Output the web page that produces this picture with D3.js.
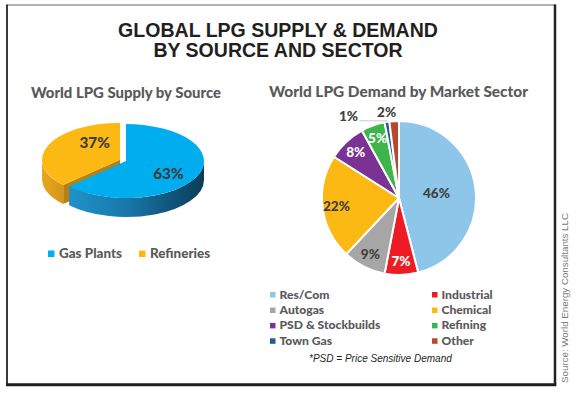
<!DOCTYPE html>
<html><head><meta charset="utf-8">
<script src="https://cdn.jsdelivr.net/npm/d3@7"></script>
<style>html,body{margin:0;padding:0;background:#fff;overflow:hidden}</style>
</head><body><svg id="c" width="580" height="394"></svg>
<script>
// ---- data ----
const titleLines = ["GLOBAL LPG SUPPLY & DEMAND", "BY SOURCE AND SECTOR"];
const supplyTitle = "World LPG Supply by Source";
const supplyCategories = ["Gas Plants", "Refineries"];
const supplyValues = [63, 37];
const demandTitle = "World LPG Demand by Market Sector";
const demandCategories = ["Res/Com", "Industrial", "Autogas", "Chemical", "PSD & Stockbuilds", "Refining", "Town Gas", "Other"];
const demandValues = [46, 7, 9, 22, 8, 5, 1, 2];
const footnote = "*PSD = Price Sensitive Demand";
const sourceNote = "Source: World Energy Consultants LLC";

// ---- styles ----
const supplyTop = ["#00aeef", "#fdb913"];
const demandColors = ["#8ec6ea", "#ed1c24", "#a6a6a6", "#fdb913", "#7a3294", "#3cb54a", "#1f5c99", "#b9472b"];
const demandLabelColors = ["#404040", "#ffffff", "#404040", "#404040", "#ffffff", "#ffffff", "#404040", "#404040"];
const calibri = "Lato, 'Open Sans', sans-serif";
const calW = 900;
const arial = "'Liberation Sans', Arial, sans-serif";

const svg = d3.select("#c");
function fit(t, target) {
  const w = t.node().getComputedTextLength();
  const fs = parseFloat(t.attr("font-size"));
  const nfs = fs * target / w;
  t.attr("font-size", nfs);
  return nfs;
}

// ---- frame ----
svg.append("line").attr("x1", 7).attr("x2", 556).attr("y1", 5).attr("y2", 5).attr("stroke", "#9a9a9a").attr("stroke-width", 1.5);
svg.append("line").attr("x1", 7).attr("x2", 7).attr("y1", 4.5).attr("y2", 386).attr("stroke", "#3a3a3a").attr("stroke-width", 2);
svg.append("line").attr("x1", 555).attr("x2", 555).attr("y1", 4.5).attr("y2", 386).attr("stroke", "#222").attr("stroke-width", 2.5);
svg.append("line").attr("x1", 6).attr("x2", 556.2).attr("y1", 384.8).attr("y2", 384.8).attr("stroke", "#1e1e1e").attr("stroke-width", 3);

// ---- title ----
const titleTargets = [320, 245];
let tfs = null;
titleLines.forEach((s, i) => {
  const t = svg.append("text").attr("x", 278).attr("y", 37 + i * 20)
    .attr("text-anchor", "middle").attr("font-family", arial).attr("font-weight", "bold")
    .attr("font-size", 18).attr("fill", "#231f20").text(s);
  if (i === 0) tfs = fit(t, titleTargets[0]); else t.attr("font-size", tfs);
});

// ---- subtitles ----
const st1 = svg.append("text").attr("x", 126).attr("y", 97.5).attr("text-anchor", "middle")
  .attr("font-family", calibri).attr("font-weight", calW).attr("font-size", 15).attr("fill", "#595959").text(supplyTitle);
fit(st1, 190);
const st2 = svg.append("text").attr("x", 398.5).attr("y", 97).attr("text-anchor", "middle")
  .attr("font-family", calibri).attr("font-weight", calW).attr("font-size", 15).attr("fill", "#595959").text(demandTitle);
fit(st2, 259);

// ---- 3D supply pie ----
const defs = svg.append("defs");
const gb = defs.append("linearGradient").attr("id", "blueSide").attr("gradientUnits", "userSpaceOnUse")
  .attr("x1", 60).attr("x2", 205).attr("y1", 0).attr("y2", 0);
gb.append("stop").attr("offset", 0).attr("stop-color", "#2195cf");
gb.append("stop").attr("offset", 0.45).attr("stop-color", "#1879ab");
gb.append("stop").attr("offset", 1).attr("stop-color", "#0b3b57");
const go = defs.append("linearGradient").attr("id", "orangeSide").attr("gradientUnits", "userSpaceOnUse")
  .attr("x1", 40).attr("x2", 65).attr("y1", 0).attr("y2", 0);
go.append("stop").attr("offset", 0).attr("stop-color", "#e9a81f");
go.append("stop").attr("offset", 1).attr("stop-color", "#d3951a");
const sideFill = ["url(#blueSide)", "url(#orangeSide)"];
const radialFill = ["#0e5d86", "#b88012"];

const cx = 126, cy = 161, rx = 78, ry = 37, depth = 19;
const explode = [0, 6.5];
const sArcs = d3.pie().sort(null).value(d => d)(supplyValues);
sArcs.forEach((a, i) => {
  const m = (a.startAngle + a.endAngle) / 2;
  a.ox = explode[i] * Math.sin(m);
  a.oy = -explode[i] * Math.cos(m) * ry / rx;
});
const P = (a, ang, r = 1, dz = 0) => [cx + a.ox + rx * r * Math.sin(ang), cy + a.oy - ry * r * Math.cos(ang) + dz];
const g3 = svg.append("g");

function radialFace(a, ang, i) {
  const c0 = P(a, ang, 0), e0 = P(a, ang), e1 = P(a, ang, 1, depth), c1 = P(a, ang, 0, depth);
  g3.append("path").attr("d", `M${c0}L${e0}L${e1}L${c1}Z`).attr("fill", radialFill[i]);
}
function sideWall(a, i) {
  const s = Math.max(a.startAngle, Math.PI / 2), e = Math.min(a.endAngle, 3 * Math.PI / 2);
  if (e <= s) return;
  const p0 = P(a, s), p1 = P(a, e), q1 = P(a, e, 1, depth), q0 = P(a, s, 1, depth);
  g3.append("path").attr("d", `M${p0}A${rx},${ry} 0 0 1 ${p1}L${q1}A${rx},${ry} 0 0 0 ${q0}Z`)
    .attr("fill", sideFill[i]);
}
// back-to-front
radialFace(sArcs[1], sArcs[1].startAngle, 1);
sideWall(sArcs[1], 1);
sideWall(sArcs[0], 0);
sArcs.forEach((a, i) => {
  const c = P(a, 0, 0), p0 = P(a, a.startAngle), p1 = P(a, a.endAngle);
  const large = (a.endAngle - a.startAngle) > Math.PI ? 1 : 0;
  g3.append("path").attr("d", `M${c}L${p0}A${rx},${ry} 0 ${large} 1 ${p1}Z`)
    .attr("fill", supplyTop[i]);
});
const supplyNudge = [[-2, 3], [19, -8]];
sArcs.forEach((a, i) => {
  const m = (a.startAngle + a.endAngle) / 2;
  const p = P(a, m, 0.62);
  const t = g3.append("text").attr("x", p[0] + supplyNudge[i][0]).attr("y", p[1] + supplyNudge[i][1])
    .attr("dy", "0.36em").attr("text-anchor", "middle").attr("font-family", calibri)
    .attr("font-weight", calW).attr("font-size", 16).attr("fill", "#3d3d3d").text(supplyValues[i] + "%");
  fit(t, 30.5);
});

// supply legend
const supplyLegendX = [48, 139];
let sfs = null;
supplyCategories.forEach((c, i) => {
  svg.append("rect").attr("x", supplyLegendX[i]).attr("y", 250.5).attr("width", 6.5).attr("height", 6.5).attr("fill", supplyTop[i]);
  const t = svg.append("text").attr("x", supplyLegendX[i] + 11).attr("y", 258).attr("font-family", calibri)
    .attr("font-weight", calW).attr("font-size", 14).attr("fill", "#595959").text(c);
  if (sfs === null) sfs = fit(t, 63);
  else t.attr("font-size", sfs);
});

// ---- demand pie ----
const dcx = 399, dcy = 198, R = 77;
const dArcs = d3.pie().sort(null).value(d => d)(demandValues);
const arc = d3.arc().innerRadius(0).outerRadius(R);
const gd = svg.append("g").attr("transform", `translate(${dcx},${dcy})`);
gd.selectAll("path").data(dArcs).join("path").attr("d", arc)
  .attr("fill", (d, i) => demandColors[i]).attr("stroke", "#fff").attr("stroke-width", 2).attr("stroke-linejoin", "round");

const labelArcIn = d3.arc().innerRadius(R * 0.82).outerRadius(R * 0.82);
const labelArcMid = d3.arc().innerRadius(R * 0.49).outerRadius(R * 0.49);
const labelArcOut = d3.arc().innerRadius(R * 1.12).outerRadius(R * 1.12);
const demandNudge = { 6: [-37, 3], 7: [-7, 0] };
let dfs = null;
dArcs.forEach((a, i) => {
  const v = demandValues[i];
  const la = v > 30 ? labelArcMid : (v <= 2 ? labelArcOut : labelArcIn);
  const c = la.centroid(a);
  const n = demandNudge[i] || [0, 0];
  const x = c[0] + n[0], y = c[1] + n[1];
  if (i === 6) {
    const m = (a.startAngle + a.endAngle) / 2;
    gd.append("line").attr("x1", x + 11).attr("y1", y + 5).attr("x2", R * Math.sin(m)).attr("y2", y + 5)
      .attr("stroke", "#c8c8c8").attr("stroke-width", 1);
    gd.append("line").attr("x1", R * Math.sin(m)).attr("y1", y + 5).attr("x2", R * Math.sin(m)).attr("y2", -R * Math.cos(m))
      .attr("stroke", "#c8c8c8").attr("stroke-width", 1);
  }
  const t = gd.append("text").attr("x", x).attr("y", y).attr("dy", "0.36em").attr("text-anchor", "middle")
    .attr("font-family", calibri).attr("font-weight", calW).attr("font-size", 14)
    .attr("fill", demandLabelColors[i]).text(v + "%");
  if (dfs === null) dfs = fit(t, 27); else t.attr("font-size", dfs);
});

// demand legend
const colX = [270, 432];
const rowY = [298.5, 314, 329.4, 344.8];
const lg = svg.append("g");
const measure = lg.append("text").attr("font-family", calibri).attr("font-weight", calW).attr("font-size", 14).text(demandCategories[4]);
const lfs = fit(measure, 101);
measure.remove();
demandCategories.forEach((c, i) => {
  const x = colX[i % 2], y = rowY[Math.floor(i / 2)];
  lg.append("rect").attr("x", x).attr("y", y - 6.5).attr("width", 5.5).attr("height", 5.5).attr("fill", demandColors[i]);
  lg.append("text").attr("x", x + 9.5).attr("y", y).attr("font-family", calibri).attr("font-weight", calW)
    .attr("font-size", lfs).attr("fill", "#595959").text(c);
});

// footnote
const fn = svg.append("text").attr("x", 309).attr("y", 362).attr("font-family", arial).attr("font-style", "italic")
  .attr("font-size", 11).attr("fill", "#231f20").text(footnote);
fit(fn, 143);

// source
const src = svg.append("text").attr("transform", "translate(568,383) rotate(-90)").attr("font-family", arial)
  .attr("font-size", 9.5).attr("fill", "#7a7a7a").text(sourceNote);
fit(src, 170);
</script>
</body></html>
